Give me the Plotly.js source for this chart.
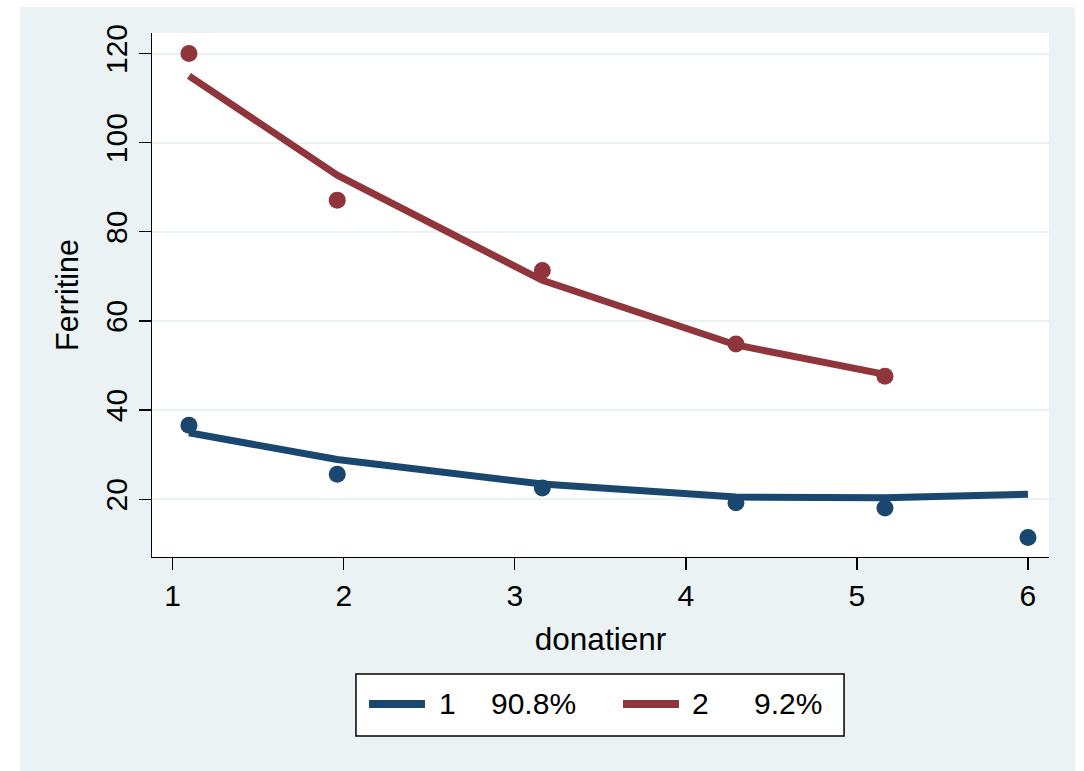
<!DOCTYPE html>
<html>
<head>
<meta charset="utf-8">
<script src="https://cdn.plot.ly/plotly-3.0.1.min.js"></script>
<style>
  html, body { margin: 0; padding: 0; background: #ffffff; }
  #wrap { position: relative; width: 1084px; height: 771px; background: #ffffff; overflow: hidden; }
  #chart { position: absolute; left: 20px; top: 7px; width: 1055px; height: 764px; }
</style>
</head>
<body>
<div id="wrap"><div id="chart"></div></div>
<script>
// ---- data ----
const donatienr = [1.095, 1.962, 3.161, 4.293, 5.164, 6.0];
const observed1 = [36.6, 25.6, 22.5, 19.2, 18.0, 11.4];
const fitted1   = [34.9, 28.9, 23.4, 20.5, 20.3, 21.1];
const donatienr2 = [1.095, 1.962, 3.161, 4.293, 5.164];
const observed2 = [120.0, 87.1, 71.3, 54.8, 47.6];
const fitted2   = [115.0, 92.7, 69.1, 54.6, 48.0];
const classNames = ['1', '2'];
const classShares = ['90.8%', '9.2%'];
const xTicks = [1, 2, 3, 4, 5, 6];
const yTicks = [20, 40, 60, 80, 100, 120];

const blue = '#1a476f';
const red = '#90353b';
const bg = '#eaf2f3';
const FONT = 'Liberation Sans, Arial, Helvetica, sans-serif';

const traces = [
  {x: donatienr, y: fitted1, mode: 'lines', line: {color: blue, width: 7}, showlegend: false, name: classNames[0]},
  {x: donatienr2, y: fitted2, mode: 'lines', line: {color: red, width: 7}, showlegend: false, name: classNames[1]},
  {x: donatienr, y: observed1, mode: 'markers', marker: {color: blue, size: 17}, showlegend: false},
  {x: donatienr2, y: observed2, mode: 'markers', marker: {color: red, size: 17}, showlegend: false}
];

// custom legend (paper coordinates)
const legY = -0.2805;
const shapes = [
  {type: 'rect', xref: 'paper', yref: 'paper', x0: 0.2274, x1: 0.7715, y0: -0.3416, y1: -0.2233,
   line: {color: '#000000', width: 1.5}, fillcolor: '#ffffff'},
  {type: 'line', xref: 'paper', yref: 'paper', x0: 0.2419, x1: 0.3043, y0: legY, y1: legY,
   line: {color: blue, width: 8}},
  {type: 'line', xref: 'paper', yref: 'paper', x0: 0.5251, x1: 0.5875, y0: legY, y1: legY,
   line: {color: red, width: 8}}
];
const legFont = {family: FONT, size: 30, color: '#000000'};
const annotations = [
  {xref: 'paper', yref: 'paper', x: 0.3177, y: legY, xanchor: 'left', yanchor: 'middle', text: classNames[0], showarrow: false, font: legFont},
  {xref: 'paper', yref: 'paper', x: 0.3757, y: legY, xanchor: 'left', yanchor: 'middle', text: classShares[0], showarrow: false, font: legFont},
  {xref: 'paper', yref: 'paper', x: 0.5998, y: legY, xanchor: 'left', yanchor: 'middle', text: classNames[1], showarrow: false, font: legFont},
  {xref: 'paper', yref: 'paper', x: 0.6689, y: legY, xanchor: 'left', yanchor: 'middle', text: classShares[1], showarrow: false, font: legFont}
];

const layout = {
  width: 1055, height: 764,
  margin: {l: 132, r: 26, t: 26, b: 214},
  paper_bgcolor: bg,
  plot_bgcolor: '#ffffff',
  font: {family: FONT, size: 30, color: '#000000'},
  showlegend: false,
  xaxis: {
    range: [0.879, 6.123],
    tickvals: xTicks,
    ticktext: xTicks.map(String),
    ticks: 'outside', ticklen: 12, tickwidth: 1.3, tickcolor: '#000000',
    showline: true, linecolor: '#000000', linewidth: 1.3,
    showgrid: false, zeroline: false,
    tickfont: {family: FONT, size: 30, color: '#000000'},
    title: {text: 'donatienr', font: {family: FONT, size: 31.5, color: '#000000'}, standoff: 16},
    automargin: false
  },
  yaxis: {
    range: [7.03, 124.6],
    tickvals: yTicks,
    ticktext: yTicks.map(String),
    tickangle: -90,
    ticks: 'outside', ticklen: 12, tickwidth: 1.3, tickcolor: '#000000',
    showline: true, linecolor: '#000000', linewidth: 1.3,
    showgrid: true, gridcolor: bg, gridwidth: 2,
    zeroline: false,
    tickfont: {family: FONT, size: 30, color: '#000000'},
    title: {text: 'Ferritine', font: {family: FONT, size: 30.5, color: '#000000'}, standoff: 12},
    automargin: false
  },
  shapes: shapes,
  annotations: annotations
};

Plotly.newPlot('chart', traces, layout, {displayModeBar: false, staticPlot: true});
</script>
</body>
</html>
